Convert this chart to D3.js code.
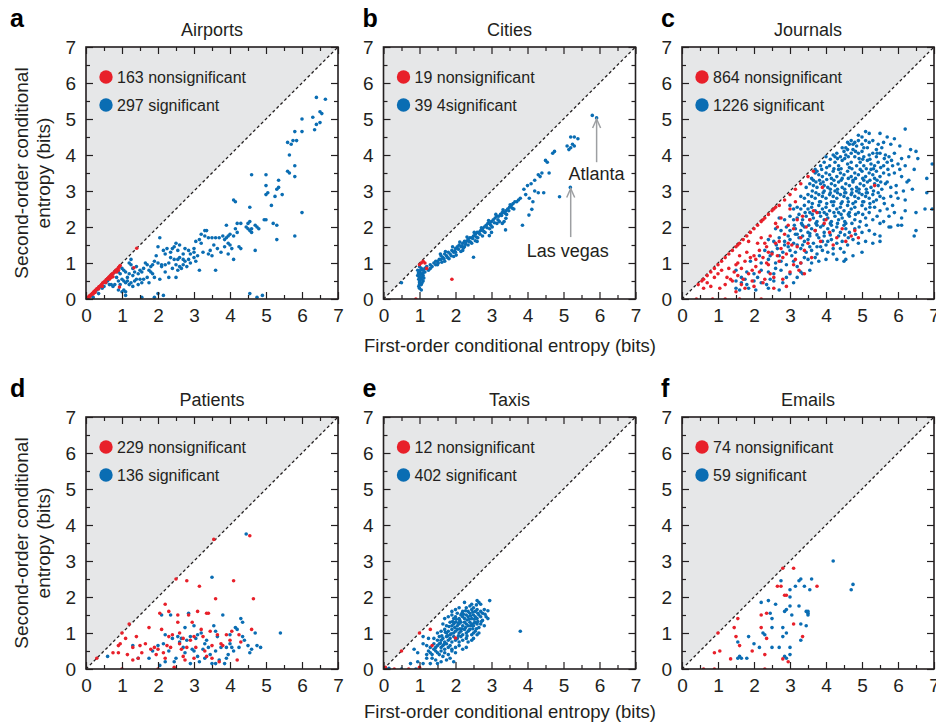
<!DOCTYPE html>
<html>
<head>
<meta charset="utf-8">
<script src="https://cdn.jsdelivr.net/npm/d3@7"></script>
<style>
body { margin: 0; background: #fff; }
svg { display: block; font-family: "Liberation Sans", Arial, Helvetica, sans-serif; }
.tick text { font-family: "Liberation Sans", Arial, Helvetica, sans-serif; font-size: 19px; fill: #231f20; }
</style>
</head>
<body>
<svg id="chart" width="936" height="725"></svg>
<script>
// ---- data (first-order entropy, second-order entropy) ----
var titles = ["Airports", "Cities", "Journals", "Patients", "Taxis", "Emails"];
var letters = ["a", "b", "c", "d", "e", "f"];
var nonsigLabels = ["163 nonsignificant", "19 nonsignificant", "864 nonsignificant", "229 nonsignificant", "12 nonsignificant", "74 nonsignificant"];
var sigLabels = ["297 significant", "39 4significant", "1226 significant", "136 significant", "402 significant", "59 significant"];
var majorTicks = [0, 1, 2, 3, 4, 5, 6, 7];
var minorTicks = [0.5, 1.5, 2.5, 3.5, 4.5, 5.5, 6.5];

var airportsRed = [[0.03,0.02],[0.06,0.05],[0.09,0.08],[0.12,0.1],[0.15,0.13],[0.18,0.16],[0.21,0.19],[0.24,0.22],[0.27,0.25],[0.3,0.28],[0.33,0.3],[0.36,0.34],[0.4,0.37],[0.43,0.4],[0.46,0.44],[0.5,0.47],[0.53,0.5],[0.56,0.53],[0.6,0.57],[0.63,0.6],[0.66,0.63],[0.7,0.67],[0.73,0.7],[0.76,0.72],[0.8,0.76],[0.83,0.8],[0.86,0.82],[0.9,0.87],[0.93,0.9],[0.95,0.93],[0.1,0.06],[0.2,0.14],[0.35,0.28],[0.55,0.46],[0.7,0.6],[0.85,0.75],[0.9,0.8],[0.75,0.62],[0.65,0.55],[1.41,1.41],[1.33,0.87],[0.93,0.33],[0.45,0.35],[0.25,0.18]];
var airportsBlue = [[6.4,5.6],[6.65,5.55],[6.5,5.2],[6.55,5.15],[6.3,5.05],[6.0,5.0],[6.4,4.85],[6.5,4.9],[6.35,4.7],[6.0,4.65],[5.8,4.65],[5.85,4.4],[5.75,4.4],[5.6,4.35],[5.7,4.3],[5.65,4.0],[5.8,3.7],[5.6,3.55],[5.65,3.5],[5.8,3.4],[4.6,3.45],[5.0,3.45],[5.0,3.15],[5.35,3.3],[5.35,3.1],[5.3,3.05],[5.05,2.95],[5.0,2.9],[5.25,2.85],[5.45,2.9],[5.15,2.6],[6.0,2.4],[4.1,2.75],[4.15,2.7],[4.55,2.55],[4.95,2.2],[5.0,2.2],[5.2,2.1],[5.3,2.05],[5.3,1.65],[5.8,1.75],[4.2,2.1],[4.3,2.1],[4.5,2.1],[4.55,2.15],[4.45,2.0],[4.5,1.95],[4.6,1.95],[4.55,1.9],[4.6,1.85],[4.7,2.05],[4.75,2.0],[4.8,1.95],[4.15,1.95],[4.2,1.85],[4.1,1.75],[4.0,1.8],[3.95,1.75],[3.9,1.7],[3.85,1.65],[3.8,1.75],[3.7,1.7],[3.6,1.7],[3.5,1.7],[3.4,1.7],[3.3,1.75],[3.2,1.8],[3.15,1.65],[3.2,1.55],[3.05,1.6],[3.3,1.9],[3.35,1.9],[3.9,2.05],[3.95,1.55],[3.85,1.45],[4.0,1.5],[4.05,1.4],[4.25,1.45],[4.3,1.4],[4.1,1.1],[4.7,1.35],[3.6,0.8],[3.15,0.8],[3.4,1.25],[3.5,1.2],[3.45,1.35],[3.0,1.4],[3.0,1.3],[2.9,1.25],[2.85,1.35],[2.75,1.4],[2.7,1.25],[2.6,1.5],[2.5,1.55],[2.45,1.45],[2.55,1.35],[2.4,1.4],[2.35,1.3],[2.25,1.4],[2.2,1.25],[2.15,1.35],[2.05,1.7],[2.0,1.45],[1.95,1.2],[2.35,1.15],[2.45,1.1],[2.55,1.1],[2.6,1.15],[2.7,1.1],[2.75,1.05],[2.85,1.1],[2.9,1.0],[3.05,1.05],[2.5,0.95],[2.6,0.9],[2.65,0.85],[2.7,0.95],[2.8,0.9],[2.55,0.8],[2.4,0.85],[2.3,1.0],[2.2,0.95],[2.1,0.95],[2.0,1.0],[1.9,1.05],[1.85,0.95],[1.8,0.9],[1.7,0.95],[1.65,1.0],[1.6,0.85],[1.75,0.8],[1.8,0.75],[1.85,0.7],[1.55,0.75],[1.5,0.8],[1.45,0.7],[1.4,0.9],[1.35,0.75],[1.3,0.85],[1.25,0.95],[1.2,1.0],[1.25,1.1],[1.3,0.65],[1.2,0.7],[1.15,0.6],[1.1,0.75],[1.05,0.8],[1.0,0.85],[0.95,0.7],[0.9,0.75],[0.85,0.8],[0.8,0.75],[0.75,0.7],[0.7,0.65],[0.85,0.6],[0.9,0.5],[1.0,0.55],[1.05,0.5],[1.1,0.45],[1.15,0.5],[1.2,0.4],[1.25,0.45],[1.3,0.35],[1.35,0.5],[1.4,0.55],[1.5,0.55],[1.55,0.45],[1.45,0.4],[0.95,0.4],[0.9,0.25],[1.0,0.2],[1.05,0.25],[0.55,0.45],[0.6,0.5],[0.65,0.4],[0.7,0.4],[0.5,0.35],[0.45,0.3],[0.4,0.35],[0.75,0.35],[0.8,0.4],[0.3,0.25],[0.25,0.2],[0.35,0.15],[0.2,0.05],[0.15,0.1],[1.1,0.2],[2.1,0.9],[2.2,0.75],[2.3,0.6],[2.05,0.55],[1.9,0.6],[1.7,0.6],[1.6,0.55],[1.75,0.45],[2.5,0.6],[2.0,0.15],[2.15,0.1],[1.9,0.05],[1.55,0.05],[1.1,0.1],[4.55,0.15],[4.75,0.05],[4.9,0.1],[3.0,1.15],[3.1,1.2],[3.25,1.3],[3.55,1.5],[3.65,1.4],[3.75,1.3],[3.95,1.25]];

var citiesRed = [[1.05,1.0],[1.1,1.05],[1.15,1.0],[1.2,0.85],[1.0,0.95],[1.9,0.55],[0.9,0.0]];
var citiesBlue = [[5.92,5.03],[5.8,5.1],[5.2,4.5],[5.3,4.5],[5.4,4.45],[5.1,4.25],[5.2,4.2],[5.3,4.25],[5.25,4.3],[5.15,4.15],[4.7,4.05],[4.75,4.1],[4.5,3.85],[4.55,3.8],[4.4,3.5],[4.6,3.5],[4.3,3.45],[4.35,3.4],[4.2,3.3],[4.1,3.2],[4.0,3.15],[3.9,3.05],[4.2,3.0],[4.3,2.95],[4.45,2.95],[4.05,2.8],[4.15,2.7],[3.95,2.9],[3.8,2.8],[3.75,2.75],[3.7,2.7],[5.19,3.1],[4.89,2.84],[3.86,2.05],[4.12,2.49],[4.04,2.33],[1.5,1.05],[1.55,1.1],[1.6,1.2],[1.65,1.15],[1.7,1.25],[1.75,1.2],[1.8,1.3],[1.85,1.25],[1.9,1.35],[1.95,1.3],[2.0,1.4],[2.05,1.45],[2.1,1.5],[2.15,1.45],[2.2,1.55],[2.25,1.6],[2.3,1.6],[2.35,1.65],[2.4,1.7],[2.45,1.7],[2.5,1.75],[2.55,1.8],[2.6,1.85],[2.65,1.85],[2.7,1.9],[2.75,1.95],[2.8,2.0],[2.85,2.05],[2.9,2.1],[2.95,2.1],[3.0,2.15],[3.05,2.2],[3.1,2.25],[3.15,2.3],[3.2,2.3],[3.25,2.35],[3.3,2.4],[3.35,2.4],[3.4,2.45],[3.45,2.5],[3.5,2.55],[3.55,2.6],[3.6,2.65],[3.65,2.7],[1.52,1.0],[1.6,1.1],[1.68,1.12],[1.78,1.15],[1.88,1.2],[1.98,1.33],[2.08,1.38],[2.18,1.48],[2.28,1.52],[2.38,1.6],[2.48,1.68],[2.58,1.72],[2.68,1.8],[2.78,1.88],[2.88,1.98],[2.98,2.05],[3.08,2.12],[3.18,2.2],[3.28,2.32],[3.38,2.38],[3.48,2.45],[3.58,2.52],[1.58,1.25],[1.72,1.32],[1.92,1.45],[2.12,1.58],[2.32,1.72],[2.52,1.85],[2.72,1.98],[2.92,2.18],[3.12,2.35],[3.32,2.48],[3.52,2.62],[2.0,1.3],[2.2,1.35],[2.45,1.55],[2.5,1.16],[3.3,2.1],[3.4,2.24],[3.35,2.15],[3.0,1.85],[2.94,1.76],[3.39,1.92],[2.6,1.6],[2.25,1.45],[1.45,0.95],[1.35,0.9],[1.4,1.0],[1.3,0.85],[1.25,0.8],[1.2,0.9],[1.15,0.85],[1.1,0.8],[1.0,0.9],[1.05,0.85],[1.0,0.75],[1.05,0.7],[1.1,0.65],[1.0,0.6],[1.05,0.55],[1.0,0.5],[1.1,0.5],[1.05,0.4],[1.0,0.3],[1.05,0.25],[0.95,0.8],[1.1,0.72],[1.15,0.75],[0.95,0.65],[1.0,0.45],[0.98,0.35],[1.08,0.62],[1.02,0.68],[0.97,0.72],[1.03,0.8],[1.12,0.58],[0.98,0.55],[1.07,0.45],[1.0,0.4],[0.5,0.45],[1.3,0.95],[1.45,1.05],[1.5,0.95],[1.62,1.02],[1.82,1.12],[2.02,1.22],[2.22,1.42],[2.42,1.58],[2.62,1.7],[2.82,1.85],[3.02,2.0],[3.22,2.15],[3.42,2.35],[3.62,2.5],[1.7,1.05],[1.95,1.18],[2.15,1.32],[2.35,1.5],[2.55,1.62],[2.75,1.75],[2.95,1.95],[3.15,2.1]];

var journalsRed = [[0.45,0.4],[0.55,0.5],[0.6,0.55],[0.7,0.65],[0.8,0.75],[0.9,0.85],[1.0,0.95],[1.1,1.05],[1.2,1.15],[1.3,1.25],[1.4,1.35],[1.5,1.45],[1.6,1.55],[1.7,1.65],[1.8,1.75],[1.9,1.85],[2.0,1.95],[2.1,2.05],[2.2,2.15],[2.3,2.25],[2.4,2.35],[2.5,2.45],[2.6,2.55],[2.7,2.6],[2.85,2.75],[3.0,2.9],[3.15,3.05],[3.3,3.2],[3.5,3.4],[3.65,3.55],[1.55,1.5],[2.25,2.2],[2.55,2.5],[0.6,0.3],[0.7,0.45],[0.8,0.35],[0.9,0.6],[1.0,0.7],[1.1,0.8],[1.2,0.4],[1.25,0.6],[1.3,0.85],[1.4,0.5],[1.45,0.75],[1.5,0.95],[1.55,0.65],[1.6,1.2],[1.65,0.85],[1.7,0.55],[1.75,1.05],[1.8,1.3],[1.85,0.7],[1.9,1.15],[1.95,0.5],[2.0,1.2],[2.05,0.9],[2.1,1.55],[2.15,0.75],[2.2,1.7],[2.25,1.15],[2.3,0.55],[2.35,1.45],[2.4,0.95],[2.45,1.75],[2.5,1.25],[2.55,0.6],[2.6,1.55],[2.65,2.0],[2.7,1.05],[2.75,1.4],[2.8,0.55],[2.85,1.8],[2.9,1.25],[2.95,2.05],[3.0,0.75],[3.05,1.5],[3.1,1.95],[3.15,1.1],[3.2,2.2],[3.25,0.8],[3.3,1.7],[3.35,2.3],[3.4,1.35],[3.45,2.0],[3.5,1.55],[3.55,2.2],[3.6,1.15],[3.7,1.9],[3.75,2.4],[3.85,1.6],[3.95,2.1],[4.1,1.85],[4.3,1.7],[4.45,1.95],[4.7,1.75],[4.8,1.9],[4.55,1.6],[5.35,3.15],[4.9,1.7],[1.2,0.0],[1.6,0.0],[2.2,0.0],[0.85,0.0],[0.4,0.0],[2.55,0.3],[2.9,0.35],[3.1,0.95],[2.0,0.35],[1.5,0.2],[2.7,1.6],[2.15,1.35],[1.85,1.6],[2.4,1.3],[3.0,2.5],[2.65,1.2],[2.35,1.0],[2.95,1.55],[3.3,1.0],[1.35,0.55],[1.65,0.4],[1.95,0.8],[2.25,0.45],[2.05,1.1],[2.45,0.7],[2.8,1.15],[3.2,1.45],[3.4,0.7],[1.75,0.3],[1.05,0.3],[1.55,1.0],[2.3,1.55],[2.6,2.1],[3.65,2.45],[4.0,2.2],[4.2,1.5],[3.9,3.1],[3.15,2.7],[2.75,2.25]];
var journalsBlue = [[4.9,4.55],[5.1,4.65],[5.2,4.6],[5.0,4.5],[5.5,4.6],[6.2,4.72],[5.9,4.45],[5.7,4.5],[4.6,4.35],[4.65,4.3],[4.7,4.4],[4.75,4.3],[4.8,4.35],[4.85,4.25],[4.9,4.4],[5.0,4.3],[5.1,4.4],[5.2,4.35],[5.3,4.4],[5.45,4.3],[5.6,4.35],[5.8,4.3],[6.05,4.25],[4.55,4.2],[4.6,4.15],[5.15,4.2],[5.4,4.15],[5.55,4.2],[6.35,4.15],[6.5,4.1],[4.0,3.95],[4.2,4.0],[4.3,4.05],[4.4,3.95],[4.5,4.1],[4.55,4.0],[4.7,4.05],[4.8,3.95],[4.9,4.05],[5.0,4.1],[5.05,3.95],[5.2,4.0],[5.3,4.05],[5.4,3.95],[5.5,4.05],[5.65,4.0],[5.75,3.95],[5.9,4.05],[6.1,3.9],[6.3,3.95],[6.55,3.9],[6.95,3.75],[3.7,3.6],[3.85,3.7],[3.95,3.8],[4.1,3.7],[4.25,3.8],[4.35,3.7],[4.45,3.85],[4.6,3.75],[4.7,3.8],[4.85,3.7],[4.95,3.8],[5.05,3.7],[5.15,3.85],[5.25,3.75],[5.35,3.7],[5.45,3.8],[5.6,3.7],[5.7,3.8],[5.85,3.7],[6.0,3.75],[6.2,3.7],[6.45,3.6],[3.6,3.35],[3.7,3.5],[3.8,3.45],[3.9,3.4],[4.0,3.5],[4.1,3.45],[4.2,3.55],[4.3,3.4],[4.4,3.5],[4.5,3.45],[4.6,3.55],[4.7,3.4],[4.8,3.5],[4.9,3.45],[5.0,3.55],[5.1,3.4],[5.2,3.5],[5.3,3.45],[5.4,3.55],[5.5,3.4],[5.6,3.5],[5.75,3.45],[5.9,3.5],[6.1,3.4],[6.3,3.3],[6.8,3.35],[3.45,3.1],[3.55,3.2],[3.65,3.15],[3.75,3.1],[3.85,3.2],[3.95,3.15],[4.05,3.1],[4.15,3.2],[4.25,3.15],[4.35,3.25],[4.45,3.1],[4.55,3.2],[4.65,3.15],[4.75,3.25],[4.85,3.1],[4.95,3.2],[5.05,3.15],[5.15,3.25],[5.25,3.1],[5.35,3.2],[5.45,3.15],[5.55,3.05],[5.65,3.2],[5.8,3.1],[5.95,3.15],[6.15,3.0],[6.4,3.05],[6.8,2.95],[3.3,2.85],[3.4,2.8],[3.5,2.9],[3.6,2.85],[3.7,2.8],[3.8,2.9],[3.9,2.85],[4.0,2.8],[4.1,2.9],[4.2,2.85],[4.3,2.8],[4.4,2.9],[4.5,2.85],[4.6,2.8],[4.7,2.9],[4.8,2.85],[4.9,2.8],[5.0,2.9],[5.1,2.85],[5.2,2.8],[5.3,2.9],[5.4,2.75],[5.5,2.85],[5.6,2.8],[5.8,2.85],[6.0,2.8],[6.2,2.75],[3.0,2.6],[3.1,2.5],[3.2,2.55],[3.3,2.5],[3.4,2.6],[3.5,2.5],[3.6,2.55],[3.7,2.45],[3.8,2.6],[3.9,2.5],[4.0,2.55],[4.1,2.45],[4.2,2.6],[4.3,2.5],[4.4,2.55],[4.5,2.45],[4.6,2.6],[4.7,2.5],[4.8,2.55],[4.9,2.4],[5.0,2.6],[5.1,2.5],[5.2,2.4],[5.35,2.55],[5.5,2.45],[5.7,2.5],[5.9,2.4],[6.2,2.45],[6.5,2.4],[6.75,2.5],[6.95,2.5],[2.7,2.25],[2.85,2.2],[3.0,2.3],[3.1,2.2],[3.2,2.25],[3.35,2.2],[3.45,2.3],[3.55,2.2],[3.65,2.25],[3.75,2.15],[3.85,2.3],[3.95,2.2],[4.05,2.25],[4.15,2.15],[4.25,2.3],[4.35,2.2],[4.45,2.25],[4.55,2.1],[4.65,2.3],[4.8,2.2],[4.95,2.15],[5.1,2.25],[5.3,2.2],[5.5,2.1],[5.6,2.15],[5.8,2.0],[2.6,1.95],[2.75,1.9],[2.9,2.0],[3.0,1.9],[3.15,1.95],[3.3,1.9],[3.4,2.0],[3.5,1.85],[3.6,1.95],[3.7,1.9],[3.85,2.0],[3.95,1.85],[4.05,1.95],[4.2,1.9],[4.3,2.0],[4.4,1.85],[4.55,1.95],[4.65,1.85],[4.8,1.95],[5.0,1.85],[5.2,1.9],[5.35,1.8],[5.5,1.75],[6.0,2.05],[6.1,2.05],[6.5,1.9],[6.45,1.75],[5.75,2.0],[2.4,1.65],[2.55,1.6],[2.7,1.7],[2.85,1.6],[3.0,1.65],[3.1,1.55],[3.25,1.7],[3.4,1.6],[3.5,1.65],[3.65,1.55],[3.8,1.7],[3.9,1.6],[4.0,1.5],[4.15,1.65],[4.3,1.55],[4.45,1.6],[4.6,1.5],[4.75,1.65],[4.9,1.55],[5.1,1.6],[5.3,1.55],[5.5,1.6],[2.3,1.35],[2.5,1.3],[2.65,1.4],[2.8,1.3],[3.0,1.35],[3.15,1.3],[3.3,1.4],[3.45,1.3],[3.6,1.35],[3.75,1.25],[3.9,1.35],[4.05,1.3],[4.2,1.25],[4.5,1.3],[4.75,1.2],[5.0,1.3],[4.4,1.4],[1.9,1.05],[2.2,1.0],[2.4,1.1],[2.6,1.0],[2.75,1.05],[2.9,0.95],[3.1,1.05],[3.3,1.0],[3.5,1.1],[3.6,1.0],[3.8,1.05],[4.0,1.1],[4.5,1.05],[4.55,1.1],[3.2,0.9],[2.6,0.85],[1.5,0.8],[1.8,0.75],[2.0,0.7],[2.2,0.8],[2.4,0.75],[2.55,0.7],[2.75,0.8],[3.0,0.7],[3.3,0.75],[3.55,0.8],[3.35,0.7],[1.5,0.5],[1.65,0.45],[1.8,0.4],[2.0,0.5],[2.2,0.45],[2.35,0.4],[2.55,0.5],[2.8,0.45],[3.1,0.45],[1.6,0.25],[1.85,0.3],[2.05,0.25],[2.4,0.3],[2.7,0.25],[1.5,0.3],[4.25,3.95],[4.45,4.2],[4.75,4.15],[5.05,4.2],[4.35,3.6],[4.65,3.65],[4.95,3.6],[5.25,3.6],[4.15,3.35],[4.45,3.35],[4.75,3.3],[5.05,3.3],[5.35,3.35],[3.95,3.0],[4.25,3.0],[4.55,2.95],[4.85,3.0],[5.15,2.95],[3.85,2.7],[4.15,2.7],[4.45,2.7],[4.75,2.65],[5.05,2.7],[3.55,2.4],[3.95,2.4],[4.35,2.4],[4.65,2.4],[3.35,2.05],[3.75,2.05],[4.15,2.05],[4.5,2.05],[3.2,1.8],[3.55,1.75],[3.95,1.75],[4.35,1.75],[2.85,1.5],[3.2,1.5],[3.75,1.45],[4.2,1.4],[5.7,3.25],[5.85,2.6],[6.05,3.6],[5.95,2.95],[6.25,3.25],[5.75,2.3],[6.1,2.25],[3.65,3.3],[3.75,3.55],[3.88,3.6],[4.02,3.65],[4.12,3.88],[4.22,3.62],[4.32,3.9],[4.42,3.62],[4.52,3.9],[4.62,3.95],[4.72,3.62],[4.82,4.1],[4.92,3.9],[5.02,3.88],[5.12,3.62],[5.22,3.88],[5.32,3.62],[5.42,4.05],[5.52,3.65],[5.62,3.9],[5.72,3.6],[5.82,3.85],[3.62,3.0],[3.72,3.25],[3.82,3.3],[3.92,3.25],[4.02,3.32],[4.12,3.05],[4.22,3.3],[4.32,3.05],[4.42,3.3],[4.52,3.05],[4.62,3.35],[4.72,3.05],[4.82,3.35],[4.92,3.05],[5.02,3.35],[5.12,3.05],[5.22,3.3],[5.32,3.0],[5.42,3.3],[5.52,3.25],[3.52,2.7],[3.62,2.65],[3.72,2.95],[3.82,2.7],[3.92,2.95],[4.02,2.65],[4.12,2.95],[4.22,2.7],[4.32,2.95],[4.42,2.65],[4.52,2.95],[4.62,2.7],[4.72,2.95],[4.82,2.7],[4.92,2.95],[5.02,2.7],[5.12,2.95],[5.22,2.65],[5.32,2.7],[5.45,2.95],[5.62,2.65],[3.25,2.35],[3.42,2.4],[3.62,2.35],[3.82,2.4],[4.02,2.35],[4.22,2.4],[4.42,2.35],[4.62,2.35],[4.82,2.35],[5.02,2.35],[5.22,2.55],[5.42,2.3],[3.12,2.05],[3.32,2.1],[3.52,2.05],[3.72,2.1],[3.92,2.05],[4.12,2.1],[4.32,2.1],[4.52,2.15],[4.72,2.1],[4.92,2.0],[5.12,2.05],[2.95,1.75],[3.15,1.8],[3.35,1.75],[3.55,1.82],[3.75,1.78],[4.12,1.78],[4.52,1.78],[4.82,1.8],[2.62,1.5],[2.95,1.45],[3.35,1.5],[3.55,1.45],[3.85,1.45],[4.05,1.6],[4.62,1.7],[2.15,1.2],[2.45,1.2],[2.7,1.2],[3.05,1.2],[3.4,1.15],[3.7,1.15],[4.3,1.1],[1.75,0.55],[2.1,0.6],[2.45,0.55],[2.9,0.6],[3.2,0.6],[1.65,0.6]];

var patientsRed = [[0.3,0.3],[1.0,1.0],[1.2,1.25],[1.1,0.85],[0.9,0.65],[0.95,0.7],[0.75,0.45],[0.9,0.45],[1.15,0.4],[1.3,0.6],[1.4,0.9],[1.5,0.65],[1.55,0.45],[1.3,0.25],[1.75,1.15],[1.8,0.55],[1.95,0.4],[1.9,0.6],[2.0,0.55],[2.05,1.55],[2.1,1.1],[2.2,1.8],[2.3,1.6],[2.25,0.65],[2.3,0.9],[2.2,0.3],[2.4,0.95],[2.5,2.5],[2.55,1.5],[2.6,0.7],[2.6,1.0],[2.65,0.55],[2.7,0.35],[2.75,0.25],[2.8,2.45],[2.85,1.5],[2.7,0.85],[2.9,0.8],[2.95,1.3],[3.0,0.3],[3.1,1.6],[3.15,2.3],[3.2,1.1],[3.25,0.9],[3.3,0.5],[3.35,1.55],[3.4,1.55],[3.45,1.05],[3.5,0.65],[3.55,3.6],[3.6,1.95],[3.65,0.95],[3.7,0.2],[3.75,0.7],[3.8,0.65],[3.9,0.95],[4.0,0.8],[4.05,1.05],[4.1,2.45],[4.2,0.25],[4.25,0.95],[4.3,0.75],[4.55,3.7],[4.6,1.1],[4.65,1.95],[2.0,0.0],[1.0,0.0],[2.45,0.05],[3.05,0.6],[2.15,0.45],[2.8,0.6],[3.5,0.3],[1.65,0.7],[2.55,1.3],[3.0,0.9],[3.35,0.35],[2.35,0.6],[1.45,0.3]];
var patientsBlue = [[0.6,0.35],[1.3,0.65],[1.75,0.3],[1.85,0.5],[2.0,0.65],[2.1,1.5],[2.15,0.7],[2.2,0.95],[2.2,0.2],[2.3,0.5],[2.35,1.5],[2.4,0.85],[2.5,0.3],[2.55,0.9],[2.6,0.75],[2.65,0.85],[2.7,0.6],[2.75,1.15],[2.8,0.8],[2.85,1.55],[2.9,0.9],[2.95,0.55],[3.0,1.2],[3.05,0.85],[3.1,0.35],[3.15,0.2],[3.2,1.0],[3.25,0.55],[3.3,0.3],[3.35,0.8],[3.4,0.6],[3.45,0.4],[3.5,2.55],[3.5,0.15],[3.55,1.2],[3.6,0.5],[3.65,0.9],[3.7,0.25],[3.75,0.6],[3.8,1.5],[3.85,0.15],[3.9,0.6],[3.95,0.4],[4.0,0.7],[4.05,0.6],[4.1,0.5],[4.15,1.15],[4.2,1.1],[4.25,0.6],[4.3,1.4],[4.35,1.3],[4.4,0.8],[4.45,3.75],[4.5,0.65],[4.55,0.45],[4.6,0.55],[4.7,1.0],[4.75,0.65],[4.85,0.6],[5.4,1.0],[4.0,0.95],[3.6,0.15],[3.3,0.7],[2.9,0.15],[2.45,0.2],[3.1,0.95],[3.6,1.05],[3.0,0.5],[2.75,0.45],[3.9,0.3],[4.35,0.9],[1.45,0.3],[2.05,0.1]];

var taxisRed = [[0.05,0.05],[0.5,0.5],[1.0,1.0],[1.3,1.1],[1.35,0.65],[0.3,0.0],[0.7,0.0],[1.0,0.05],[2.0,0.86]];
var taxisBlue = [[2.25,1.85],[2.45,1.8],[2.6,1.9],[2.65,1.85],[2.95,1.9],[2.4,1.75],[2.7,1.8],[1.9,1.6],[2.0,1.65],[2.1,1.7],[2.2,1.6],[2.3,1.7],[2.35,1.6],[2.45,1.65],[2.5,1.7],[2.55,1.6],[2.6,1.65],[2.7,1.6],[2.75,1.55],[2.8,1.65],[1.7,1.4],[1.8,1.45],[1.9,1.5],[1.95,1.4],[2.0,1.45],[2.05,1.55],[2.1,1.4],[2.15,1.5],[2.2,1.45],[2.25,1.4],[2.3,1.5],[2.35,1.45],[2.4,1.55],[2.45,1.4],[2.5,1.5],[2.55,1.45],[2.6,1.4],[2.65,1.5],[2.7,1.45],[2.85,1.45],[2.9,1.4],[2.75,1.35],[1.65,1.25],[1.75,1.2],[1.85,1.3],[1.9,1.2],[1.95,1.25],[2.0,1.3],[2.05,1.2],[2.1,1.25],[2.15,1.3],[2.2,1.2],[2.25,1.3],[2.3,1.25],[2.35,1.2],[2.4,1.3],[2.45,1.25],[2.5,1.2],[2.55,1.3],[2.6,1.25],[2.65,1.15],[2.7,1.25],[2.8,1.2],[1.5,1.0],[1.6,1.05],[1.7,1.1],[1.75,1.0],[1.8,1.05],[1.85,0.95],[1.9,1.1],[1.95,1.0],[2.0,1.05],[2.05,1.1],[2.1,1.0],[2.15,1.05],[2.2,0.95],[2.25,1.1],[2.3,1.0],[2.35,1.05],[2.4,1.1],[2.45,0.95],[2.5,1.0],[2.55,1.05],[2.6,0.95],[2.65,1.0],[3.8,1.05],[1.4,0.85],[1.5,0.8],[1.55,0.9],[1.6,0.8],[1.65,0.85],[1.7,0.75],[1.75,0.9],[1.8,0.8],[1.85,0.85],[1.9,0.75],[1.95,0.9],[2.0,0.8],[2.05,0.85],[2.1,0.75],[2.15,0.9],[2.2,0.8],[2.3,0.85],[2.35,0.75],[2.45,0.8],[2.5,0.85],[1.1,0.9],[1.25,0.85],[1.2,0.65],[1.3,0.6],[1.4,0.7],[1.45,0.6],[1.5,0.65],[1.55,0.7],[1.6,0.6],[1.65,0.65],[1.7,0.55],[1.75,0.7],[1.8,0.6],[1.85,0.65],[1.9,0.55],[2.0,0.6],[2.1,0.65],[2.2,0.55],[2.3,0.6],[1.1,0.7],[0.85,0.55],[0.95,0.45],[1.2,0.4],[1.25,0.5],[1.3,0.45],[1.35,0.4],[1.45,0.5],[1.5,0.45],[1.55,0.4],[1.6,0.5],[1.7,0.45],[1.8,0.4],[1.9,0.5],[2.0,0.45],[1.4,0.55],[1.65,0.35],[0.75,0.15],[0.95,0.2],[1.1,0.15],[1.2,0.3],[1.35,0.3],[1.45,0.25],[1.5,0.15],[1.6,0.2],[1.75,0.25],[1.85,0.3],[1.95,0.2],[1.3,0.15],[0.05,0.03],[0.15,0.02],[0.5,0.0],[0.9,0.0],[2.12,1.35],[2.28,1.15],[2.38,1.38],[2.18,1.12],[2.42,1.2],[2.08,0.92],[2.32,0.92],[1.98,1.15],[2.52,1.38],[2.62,1.55],[2.18,1.55],[2.48,1.58],[2.9,1.62],[2.58,1.12],[2.72,1.32],[1.88,0.98],[1.78,0.92],[1.62,0.92],[1.72,1.02],[1.58,0.72],[1.68,0.68],[2.02,1.38],[2.22,1.52],[2.32,1.36],[2.52,1.28],[2.62,1.32],[2.42,1.48],[2.28,1.62],[2.08,1.28],[1.92,1.32],[2.38,1.08],[2.48,1.12],[2.12,1.12],[1.82,1.18],[2.82,1.52],[2.58,1.78]];

var emailsRed = [[0.9,0.45],[1.0,1.0],[1.05,0.5],[1.35,0.28],[1.45,1.15],[1.5,0.9],[1.55,1.4],[1.6,0.65],[1.95,0.5],[2.2,1.5],[2.2,1.15],[2.3,0.4],[2.35,1.55],[2.35,0.85],[2.65,2.3],[2.75,2.3],[2.8,2.8],[2.85,2.05],[2.9,2.05],[2.8,0.28],[2.95,0.2],[3.1,2.8],[3.1,1.25],[3.35,0.9],[3.75,2.3],[0.6,0.0],[0.9,0.0],[2.3,0.0]];
var emailsBlue = [[1.55,0.3],[1.6,0.35],[1.65,0.3],[1.55,0.75],[1.8,0.3],[1.85,0.9],[2.0,0.7],[2.15,0.6],[2.2,1.85],[2.25,1.0],[2.3,0.95],[2.4,1.9],[2.45,1.55],[2.5,1.15],[2.5,1.4],[2.5,0.6],[2.6,1.8],[2.7,0.6],[2.75,2.45],[2.8,0.9],[2.8,1.15],[2.85,1.6],[2.9,1.65],[2.9,1.0],[2.85,0.35],[2.9,0.3],[3.0,2.2],[3.0,2.0],[3.0,1.75],[3.0,0.6],[3.0,0.4],[3.05,1.5],[3.15,2.3],[3.25,2.45],[3.3,2.5],[3.25,1.75],[3.3,1.25],[3.3,0.8],[3.4,2.3],[3.45,1.6],[3.5,1.6],[3.5,1.5],[3.45,1.2],[3.55,2.2],[3.6,2.5],[4.2,3.0],[4.7,2.2],[4.75,2.35],[3.5,1.55]];

var redSets = [airportsRed, citiesRed, journalsRed, patientsRed, taxisRed, emailsRed];
var blueSets = [airportsBlue, citiesBlue, journalsBlue, patientsBlue, taxisBlue, emailsBlue];

// ---- layout ----
var size = 252;
var lefts = [86, 383.5, 682];
var tops = [47, 417];
var red = "#e8202a", blue = "#0a6db3", ink = "#231f20";

var svg = d3.select("#chart");
svg.append("rect").attr("width", 936).attr("height", 725).attr("fill", "#fff");

var x = d3.scaleLinear().domain([0, 7]).range([0, size]);
var y = d3.scaleLinear().domain([0, 7]).range([size, 0]);
var line = d3.line().x(function (d) { return x(d[0]); }).y(function (d) { return y(d[1]); });
var fmt = d3.format("d");

svg.append("clipPath").attr("id", "plotclip")
    .append("rect").attr("width", size).attr("height", size);

function styleAxis(sel) {
    sel.select(".domain").remove();
    sel.selectAll(".tick line").attr("stroke", ink).attr("stroke-width", 1.2);
}

function drawPanel(i) {
    var col = i % 3, row = Math.floor(i / 3);
    var g = svg.append("g")
        .attr("transform", "translate(" + lefts[col] + "," + tops[row] + ")");

    // shaded half above the diagonal
    g.append("path")
        .attr("d", line([[0, 0], [0, 7], [7, 7]]) + "Z")
        .attr("fill", "#e6e7e8");

    g.append("path")
        .attr("d", line([[0, 0], [7, 7]]))
        .attr("stroke", ink)
        .attr("stroke-width", 1.3)
        .attr("stroke-dasharray", "3,2.5")
        .attr("fill", "none");

    var pts = g.append("g").attr("clip-path", "url(#plotclip)");
    pts.selectAll("circle.sig")
        .data(blueSets[i])
        .enter().append("circle")
        .attr("class", "sig")
        .attr("cx", function (d) { return x(d[0]); })
        .attr("cy", function (d) { return y(d[1]); })
        .attr("r", 1.8)
        .attr("fill", blue);
    pts.selectAll("circle.nonsig")
        .data(redSets[i])
        .enter().append("circle")
        .attr("class", "nonsig")
        .attr("cx", function (d) { return x(d[0]); })
        .attr("cy", function (d) { return y(d[1]); })
        .attr("r", 1.8)
        .attr("fill", red);

    // axes: ticks pointing inward on all four sides
    g.append("g").call(d3.axisLeft(y).tickValues(majorTicks).tickSize(-7).tickPadding(10).tickFormat(fmt)).call(styleAxis);
    g.append("g").call(d3.axisLeft(y).tickValues(minorTicks).tickSize(-4).tickFormat("")).call(styleAxis);
    g.append("g").attr("transform", "translate(0," + size + ")")
        .call(d3.axisBottom(x).tickValues(majorTicks).tickSize(-7).tickPadding(10).tickFormat(fmt)).call(styleAxis);
    g.append("g").attr("transform", "translate(0," + size + ")")
        .call(d3.axisBottom(x).tickValues(minorTicks).tickSize(-4).tickFormat("")).call(styleAxis);
    g.append("g").attr("transform", "translate(" + size + ",0)")
        .call(d3.axisRight(y).tickValues(majorTicks).tickSize(-7).tickFormat("")).call(styleAxis);
    g.append("g").attr("transform", "translate(" + size + ",0)")
        .call(d3.axisRight(y).tickValues(minorTicks).tickSize(-4).tickFormat("")).call(styleAxis);
    g.append("g").call(d3.axisTop(x).tickValues(majorTicks).tickSize(-7).tickFormat("")).call(styleAxis);
    g.append("g").call(d3.axisTop(x).tickValues(minorTicks).tickSize(-4).tickFormat("")).call(styleAxis);

    g.append("rect")
        .attr("width", size).attr("height", size)
        .attr("fill", "none").attr("stroke", ink).attr("stroke-width", 1.6);

    // legend
    g.append("circle").attr("cx", 20).attr("cy", 30).attr("r", 6.7).attr("fill", red);
    g.append("circle").attr("cx", 20).attr("cy", 58).attr("r", 6.7).attr("fill", blue);
    g.append("text").attr("x", 31).attr("y", 35.5).attr("font-size", 16).attr("fill", ink).text(nonsigLabels[i]);
    g.append("text").attr("x", 31).attr("y", 63.5).attr("font-size", 16).attr("fill", ink).text(sigLabels[i]);

    // title and panel letter
    g.append("text").attr("x", size / 2).attr("y", -11)
        .attr("text-anchor", "middle").attr("font-size", 18).attr("fill", ink)
        .text(titles[i]);
    g.append("text").attr("x", col === 0 ? -76 : -21).attr("y", -20)
        .attr("font-size", 25).attr("font-weight", "bold").attr("fill", "#000")
        .text(letters[i]);

    return g;
}

var panels = d3.range(6).map(drawPanel);

// annotations in the cities panel
var gb = panels[1];
var arrows = [
    { label: "Atlanta", x0: 5.92, y0: 3.8, y1: 5.0, tx: 5.92, ty: 3.3 },
    { label: "Las vegas", x0: 5.2, y0: 1.72, y1: 3.07, tx: 5.12, ty: 1.17 }
];
arrows.forEach(function (a) {
    gb.append("line")
        .attr("x1", x(a.x0)).attr("x2", x(a.x0))
        .attr("y1", y(a.y0)).attr("y2", y(a.y1))
        .attr("stroke", "#9d9fa2").attr("stroke-width", 1.5);
    gb.append("path")
        .attr("d", "M" + (x(a.x0) - 4) + "," + (y(a.y1) + 9) + "L" + x(a.x0) + "," + y(a.y1) + "L" + (x(a.x0) + 4) + "," + (y(a.y1) + 9))
        .attr("stroke", "#9d9fa2").attr("stroke-width", 1.5).attr("fill", "none");
    gb.append("text")
        .attr("x", x(a.tx)).attr("y", y(a.ty))
        .attr("text-anchor", "middle").attr("font-size", 18).attr("fill", ink)
        .text(a.label);
});

// shared axis titles
[352, 718].forEach(function (yy) {
    svg.append("text")
        .attr("x", 510).attr("y", yy)
        .attr("text-anchor", "middle").attr("font-size", 18.5).attr("fill", ink)
        .text("First-order conditional entropy (bits)");
});
[173, 543].forEach(function (cy) {
    var t = svg.append("text")
        .attr("transform", "translate(28," + cy + ") rotate(-90)")
        .attr("text-anchor", "middle").attr("font-size", 19).attr("fill", ink);
    t.append("tspan").attr("x", 0).attr("y", 0).text("Second-order conditional");
    t.append("tspan").attr("x", 0).attr("y", 22).text("entropy (bits)");
});
</script>
</body>
</html>
